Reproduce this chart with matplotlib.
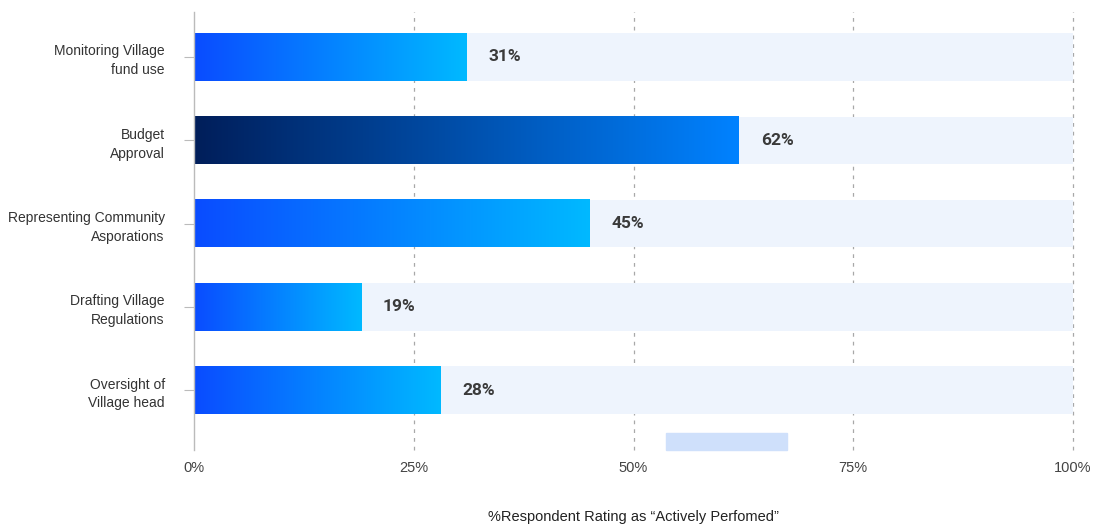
import numpy as np
import matplotlib.pyplot as plt
from matplotlib.colors import LinearSegmentedColormap
from matplotlib.patches import Rectangle

plt.rcParams['font.family'] = ['Liberation Sans', 'DejaVu Sans']

# Datos
categorias = ["Monitoring Village\nfund use", "Budget\nApproval",
              "Representing Community\nAsporations", "Drafting Village\nRegulations",
              "Oversight of\nVillage head"]
valores = [31, 62, 45, 19, 28]
ticks_x = [0, 25, 50, 75, 100]
etiquetas_x = ["0%", "25%", "50%", "75%", "100%"]
destacado = 1  # barra en azul oscuro

cmap_claro = LinearSegmentedColormap.from_list("claro", ["#0a4cff", "#00b9ff"])
cmap_oscuro = LinearSegmentedColormap.from_list("oscuro", ["#001e5a", "#0082ff"])

fig = plt.figure(figsize=(11.02, 5.26), dpi=100)
ax = fig.add_axes([194/1102, 1 - 450/526, (1073-194)/1102, (450-12)/526])

alto = 0.57
grad = np.linspace(0, 1, 256).reshape(1, -1)
for i, v in enumerate(valores):
    # barra de fondo hasta 100%
    ax.barh(i, 100, height=alto, color="#eef4fd", zorder=1)
    cmap = cmap_oscuro if i == destacado else cmap_claro
    ax.imshow(grad, extent=[0, v, i + alto/2, i - alto/2], aspect="auto",
              cmap=cmap, zorder=2, interpolation="bicubic")
    ax.text(v + 2.5, i, f"{v}%", va="center", ha="left", fontsize=12.5,
            fontweight="bold", color="#3a3a3a", zorder=3,
            family=["Roboto", "DejaVu Sans"])

# Cuadrícula
for t in ticks_x[1:]:
    ax.axvline(t, color="#a8a8a8", lw=0.9, ls=(0, (3, 4)), zorder=0, clip_on=False)

ax.set_xlim(0, 100)
ax.set_ylim(4.72, -0.54)
ax.set_xticks(ticks_x)
ax.set_xticklabels(etiquetas_x, fontsize=10.5, color="#444444")
ax.set_yticks(range(len(categorias)))
ax.set_yticklabels(categorias, fontsize=10, color="#333333")
for lbl in ax.get_yticklabels():
    lbl.set_multialignment("right")
    lbl.set_linespacing(1.45)
ax.tick_params(axis="x", length=0, pad=8)
ax.tick_params(axis="y", length=7, color="#bbbbbb", pad=14)
for s in ["top", "right", "bottom"]:
    ax.spines[s].set_visible(False)
ax.spines["left"].set_color("#bbbbbb")
ax.spines["left"].set_linewidth(1)

fig.patches.append(Rectangle((666/1102, 1 - 450/526), (787-666)/1102, 17/526,
                             transform=fig.transFigure, color="#cfe0fb",
                             zorder=5))

fig.text(633/1102, 1 - 517/526, "%Respondent Rating as \u201cActively Perfomed\u201d",
         ha="center", va="center", fontsize=10.5, color="#222222")

plt.savefig("out.png", dpi=100)
